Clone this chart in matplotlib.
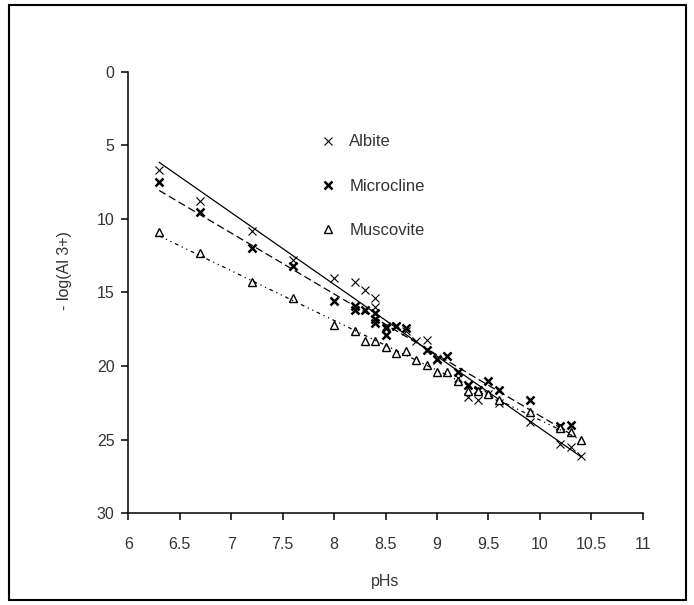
import matplotlib.pyplot as plt
import numpy as np
from matplotlib.patches import Rectangle

plt.rcParams["font.family"] = ["Liberation Sans", "DejaVu Sans"]

# values (pHs vs -log(Al3+))
albite_ph = [6.3, 6.7, 7.2, 7.6, 8.0, 8.2, 8.3, 8.4, 8.4, 8.5, 8.6, 8.7, 8.8, 8.9,
             9.0, 9.1, 9.2, 9.3, 9.4, 9.5, 9.6, 9.9, 10.2, 10.3, 10.4]
albite_al = [6.7, 8.8, 10.8, 12.8, 14.0, 14.3, 14.8, 15.4, 16.0, 17.3, 17.3, 17.6, 18.3, 18.2,
             19.6, 19.3, 20.8, 22.1, 22.3, 21.9, 22.5, 23.8, 25.3, 25.5, 26.1]

micro_ph = [6.3, 6.7, 7.2, 7.6, 8.0, 8.2, 8.2, 8.3, 8.4, 8.4, 8.4, 8.5, 8.5, 8.6, 8.7,
            8.9, 9.0, 9.1, 9.2, 9.3, 9.4, 9.5, 9.6, 9.9, 10.2, 10.3]
micro_al = [7.5, 9.5, 12.0, 13.2, 15.6, 15.9, 16.2, 16.2, 16.4, 16.8, 17.1, 17.4, 17.9, 17.3, 17.4,
            18.9, 19.5, 19.3, 20.4, 21.3, 21.6, 21.0, 21.6, 22.3, 24.1, 24.0]

musc_ph = [6.3, 6.7, 7.2, 7.6, 8.0, 8.2, 8.3, 8.4, 8.5, 8.6, 8.7, 8.8, 8.9, 9.0,
           9.1, 9.2, 9.3, 9.4, 9.5, 9.6, 9.9, 10.2, 10.3, 10.4]
musc_al = [10.9, 12.3, 14.3, 15.4, 17.2, 17.6, 18.3, 18.3, 18.7, 19.1, 19.0, 19.6, 19.9, 20.4,
           20.4, 21.0, 21.7, 21.7, 21.9, 22.3, 23.1, 24.2, 24.5, 25.0]

series = [
    ("Albite", albite_ph, albite_al, dict(marker="x", ms=6, mew=0.8), "-"),
    ("Microcline", micro_ph, micro_al, dict(marker="x", ms=5.5, mew=1.8), (0, (6, 3))),
    ("Muscovite", musc_ph, musc_al, dict(marker="^", ms=6, mew=1.0, mfc="white"), (0, (3, 3, 1, 3, 1, 3))),
]

fig = plt.figure(figsize=(6.94, 6.05), dpi=100)
ax = fig.add_axes([0.1849, 0.1516, 0.7412, 0.7299])

for name, ph, al, mk, ls in series:
    ax.plot(ph, al, ls="none", color="black", label=name, **mk)
    k, b = np.polyfit(ph, al, 1)
    xs = np.array([min(ph), max(ph)])
    ax.plot(xs, k * xs + b, color="black", lw=0.9, ls=ls)

ax.set_xlim(6, 11)
ax.set_ylim(30, 0)
ax.set_xticks(np.arange(6, 11.01, 0.5))
ax.set_xticklabels(["6", "6.5", "7", "7.5", "8", "8.5", "9", "9.5", "10", "10.5", "11"])
ax.set_yticks(range(0, 31, 5))
for s in ("top", "right"):
    ax.spines[s].set_visible(False)
for s in ("left", "bottom"):
    ax.spines[s].set_linewidth(1.1)
ax.tick_params(axis="y", direction="out", length=5, width=1.1, pad=5, labelsize=11.5, labelcolor="#333333")
ax.tick_params(axis="x", direction="out", length=5, width=1.1, pad=12, labelsize=11.5, labelcolor="#333333")

ax.set_xlabel("pHs", fontsize=11.5, color="#333333", labelpad=16)
ax.set_ylabel("- log(Al 3+)", fontsize=11.5, color="#333333")
ax.yaxis.set_label_coords(-0.11, 0.55)

ax.legend(loc="upper left", bbox_to_anchor=(0.355, 0.877), frameon=False, fontsize=12,
          handlelength=1.0, handletextpad=0.8, labelspacing=1.75, borderpad=0,
          labelcolor="#333333")

fig.patches.append(Rectangle((0.013, 0.008), 0.975, 0.984, transform=fig.transFigure,
                             fill=False, edgecolor="black", lw=1.5))

fig.savefig("out.png", dpi=100)
